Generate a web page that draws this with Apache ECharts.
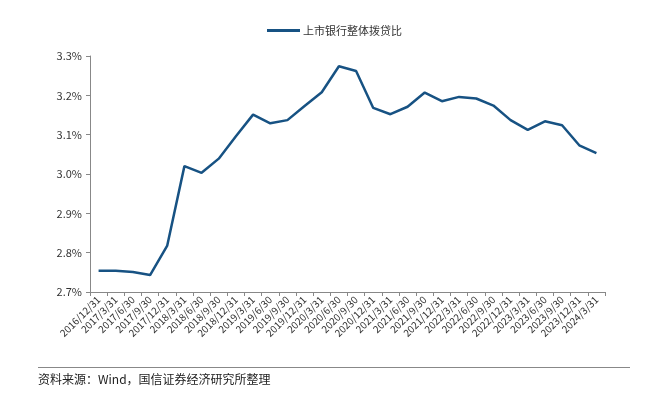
<!DOCTYPE html>
<html><head><meta charset="utf-8">
<script src="https://cdn.jsdelivr.net/npm/echarts@6/dist/echarts.min.js"></script>
<style>html,body{margin:0;padding:0;background:#fff}#c{width:655px;height:396px}</style>
</head><body><div id="c"></div>
<script>
const categories = ['2016/12/31','2017/3/31','2017/6/30','2017/9/30','2017/12/31','2018/3/31','2018/6/30','2018/9/30','2018/12/31','2019/3/31','2019/6/30','2019/9/30','2019/12/31','2020/3/31','2020/6/30','2020/9/30','2020/12/31','2021/3/31','2021/6/30','2021/9/30','2021/12/31','2022/3/31','2022/6/30','2022/9/30','2022/12/31','2023/3/31','2023/6/30','2023/9/30','2023/12/31','2024/3/31'];
const ratio = [2.754,2.754,2.751,2.743,2.818,3.020,3.003,3.039,3.096,3.151,3.129,3.137,3.173,3.208,3.274,3.262,3.168,3.152,3.171,3.207,3.185,3.196,3.192,3.174,3.137,3.112,3.134,3.124,3.073,3.053];
const seriesName = '上市银行整体拨贷比';
const sourceText = '资料来源：Wind，国信证券经济研究所整理';
const chart = echarts.init(document.getElementById('c'));
const font = '"Noto Sans CJK SC", "Liberation Sans", sans-serif';
chart.setOption({
  animation:false,
  textStyle:{fontFamily:font},
  legend:{top:20,left:262,itemWidth:33,itemHeight:3,icon:'rect',itemGap:10,
    textStyle:{fontSize:11,color:'#333',fontFamily:font,padding:[0,0,0,-2]},data:[seriesName]},
  grid:{left:90,right:50,top:56,bottom:104},
  xAxis:{type:'category',data:categories,boundaryGap:true,
    axisLine:{lineStyle:{color:'#888',width:1}},
    axisTick:{show:true,alignWithLabel:false,length:4,lineStyle:{color:'#888'}},
    axisLabel:{rotate:45,interval:0,fontSize:10,color:'#333',margin:6,fontFamily:font}},
  yAxis:{type:'value',min:2.7,max:3.3,interval:0.1,
    splitLine:{show:false},
    axisLine:{show:true,lineStyle:{color:'#888',width:1}},
    axisTick:{show:true,length:4,inside:false,lineStyle:{color:'#888'}},
    axisLabel:{fontSize:11,color:'#333',margin:8,fontFamily:font,formatter:v=>v.toFixed(1)+'%'}},
  series:[{name:seriesName,type:'line',data:ratio,symbol:'none',
    lineStyle:{color:'#175283',width:2.5},itemStyle:{color:'#175283'}}],
  graphic:[
    {type:'line',shape:{x1:38,y1:367.5,x2:630,y2:367.5},style:{stroke:'#888',lineWidth:1}},
    {type:'text',left:38,top:373,style:{text:sourceText,fontSize:12,fill:'#222',fontFamily:font}}
  ]
});
</script></body></html>
